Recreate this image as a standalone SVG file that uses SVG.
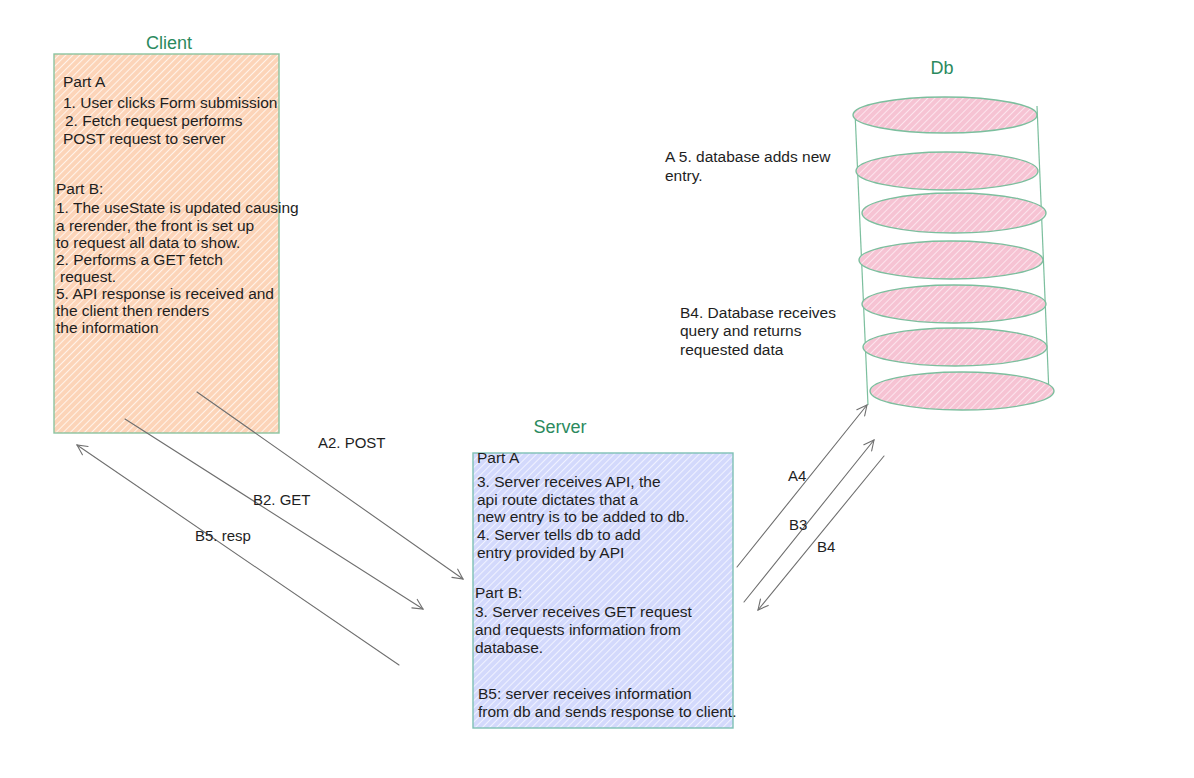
<svg xmlns="http://www.w3.org/2000/svg" width="1194" height="778" viewBox="0 0 1194 778">
<style>
  .t { font-family: "Liberation Sans", Arial, sans-serif; font-size: 15.5px; fill: #1e1e1e; }
  .title { font-family: "Liberation Sans", Arial, sans-serif; font-size: 18px; fill: #2b8a5e; }
  .lbl { font-family: "Liberation Sans", Arial, sans-serif; font-size: 15px; fill: #1e1e1e; }
  .conn { stroke: #6f6f6f; stroke-width: 1.1; fill: none; stroke-linecap: round; }
  .dbline { stroke: #7cbf9e; stroke-width: 1.2; fill: none; }
  .disk { fill: url(#hPink); stroke: #7cbf9e; stroke-width: 1.4; }
</style>
<defs>
  <pattern id="hPeach" width="5" height="5" patternUnits="userSpaceOnUse" patternTransform="rotate(-45)">
    <rect width="5" height="5" fill="#fcd4b8"/>
    <line x1="0" y1="0.5" x2="5" y2="0.5" stroke="#fff3ea" stroke-width="1.1"/>
  </pattern>
  <pattern id="hBlue" width="5" height="5" patternUnits="userSpaceOnUse" patternTransform="rotate(-45)">
    <rect width="5" height="5" fill="#d3d9fc"/>
    <line x1="0" y1="0.5" x2="5" y2="0.5" stroke="#f0f2ff" stroke-width="1.1"/>
  </pattern>
  <pattern id="hPink" width="5" height="5" patternUnits="userSpaceOnUse" patternTransform="rotate(-45)">
    <rect width="5" height="5" fill="#f6c3d3"/>
    <line x1="0" y1="0.5" x2="5" y2="0.5" stroke="#fde8ef" stroke-width="0.9"/>
  </pattern>
  <marker id="ah" viewBox="0 0 12 12" refX="11" refY="6" markerWidth="12" markerHeight="12" markerUnits="userSpaceOnUse" orient="auto">
    <path d="M1 1 L11 6 L1 11" fill="none" stroke="#6f6f6f" stroke-width="1.1" stroke-linecap="round"/>
  </marker>
</defs>
<rect width="1194" height="778" fill="#ffffff"/>

<g id="client">
  <text class="title" x="169" y="49" text-anchor="middle">Client</text>
  <rect x="54" y="54" width="225" height="379" fill="url(#hPeach)" stroke="#8cc4a0" stroke-width="1.4"/>
  <text class="t" x="63" y="87">Part A</text>
  <text class="t" x="63" y="108">1. User clicks Form submission</text>
  <text class="t" x="65" y="126">2. Fetch request performs</text>
  <text class="t" x="63" y="144">POST request to server</text>
  <text class="t" x="56" y="194">Part B:</text>
  <text class="t" x="56" y="213">1. The useState is updated causing</text>
  <text class="t" x="56" y="231">a rerender, the front is set up</text>
  <text class="t" x="56" y="248">to request all data to show.</text>
  <text class="t" x="56" y="265">2. Performs a GET fetch</text>
  <text class="t" x="60" y="282">request.</text>
  <text class="t" x="56" y="299">5. API response is received and</text>
  <text class="t" x="56" y="316">the client then renders</text>
  <text class="t" x="56" y="333">the information</text>
</g>

<g id="server">
  <text class="title" x="560" y="433" text-anchor="middle">Server</text>
  <rect x="473" y="453" width="260" height="275" fill="url(#hBlue)" stroke="#7fc1b5" stroke-width="1.4"/>
  <text class="t" x="477" y="463">Part A</text>
  <text class="t" x="477" y="487">3. Server receives API, the</text>
  <text class="t" x="477" y="505">api route dictates that a</text>
  <text class="t" x="477" y="522">new entry is to be added to db.</text>
  <text class="t" x="477" y="540">4. Server tells db to add</text>
  <text class="t" x="477" y="558">entry provided by API</text>
  <text class="t" x="475" y="598">Part B:</text>
  <text class="t" x="475" y="617">3. Server receives GET request</text>
  <text class="t" x="475" y="635">and requests information from</text>
  <text class="t" x="475" y="653">database.</text>
  <text class="t" x="478" y="699">B5: server receives information</text>
  <text class="t" x="478" y="717">from db and sends response to client.</text>
</g>

<g id="db">
  <text class="title" x="942" y="74" text-anchor="middle">Db</text>
  <line class="dbline" x1="855" y1="112" x2="868" y2="405"/>
  <line class="dbline" x1="1037" y1="106" x2="1049" y2="394"/>
  <ellipse class="disk" cx="945" cy="115" rx="92" ry="18"/>
  <ellipse class="disk" cx="947" cy="171" rx="91" ry="19"/>
  <ellipse class="disk" cx="954" cy="213" rx="92" ry="20"/>
  <ellipse class="disk" cx="951" cy="260" rx="92" ry="19"/>
  <ellipse class="disk" cx="954" cy="304" rx="92" ry="19"/>
  <ellipse class="disk" cx="955" cy="347" rx="92" ry="19"/>
  <ellipse class="disk" cx="962" cy="391" rx="92" ry="19"/>
  <text class="t" x="665" y="162">A 5. database adds new</text>
  <text class="t" x="665" y="181">entry.</text>
  <text class="t" x="680" y="318">B4. Database receives</text>
  <text class="t" x="680" y="336">query and returns</text>
  <text class="t" x="680" y="355">requested data</text>
</g>

<g id="connectors">
  <line class="conn" x1="197" y1="392" x2="463" y2="579" marker-end="url(#ah)"/>
  <line class="conn" x1="125" y1="419" x2="423" y2="609" marker-end="url(#ah)"/>
  <line class="conn" x1="399" y1="665" x2="77" y2="445" marker-end="url(#ah)"/>
  <line class="conn" x1="737" y1="567" x2="867" y2="405" marker-end="url(#ah)"/>
  <line class="conn" x1="744" y1="602" x2="874" y2="440" marker-end="url(#ah)"/>
  <line class="conn" x1="884" y1="456" x2="758" y2="610" marker-end="url(#ah)"/>
  <text class="lbl" x="318" y="448">A2. POST</text>
  <text class="lbl" x="253" y="505">B2. GET</text>
  <text class="lbl" x="195" y="541">B5. resp</text>
  <text class="lbl" x="788" y="481">A4</text>
  <text class="lbl" x="789" y="530">B3</text>
  <text class="lbl" x="817" y="552">B4</text>
</g>
</svg>
